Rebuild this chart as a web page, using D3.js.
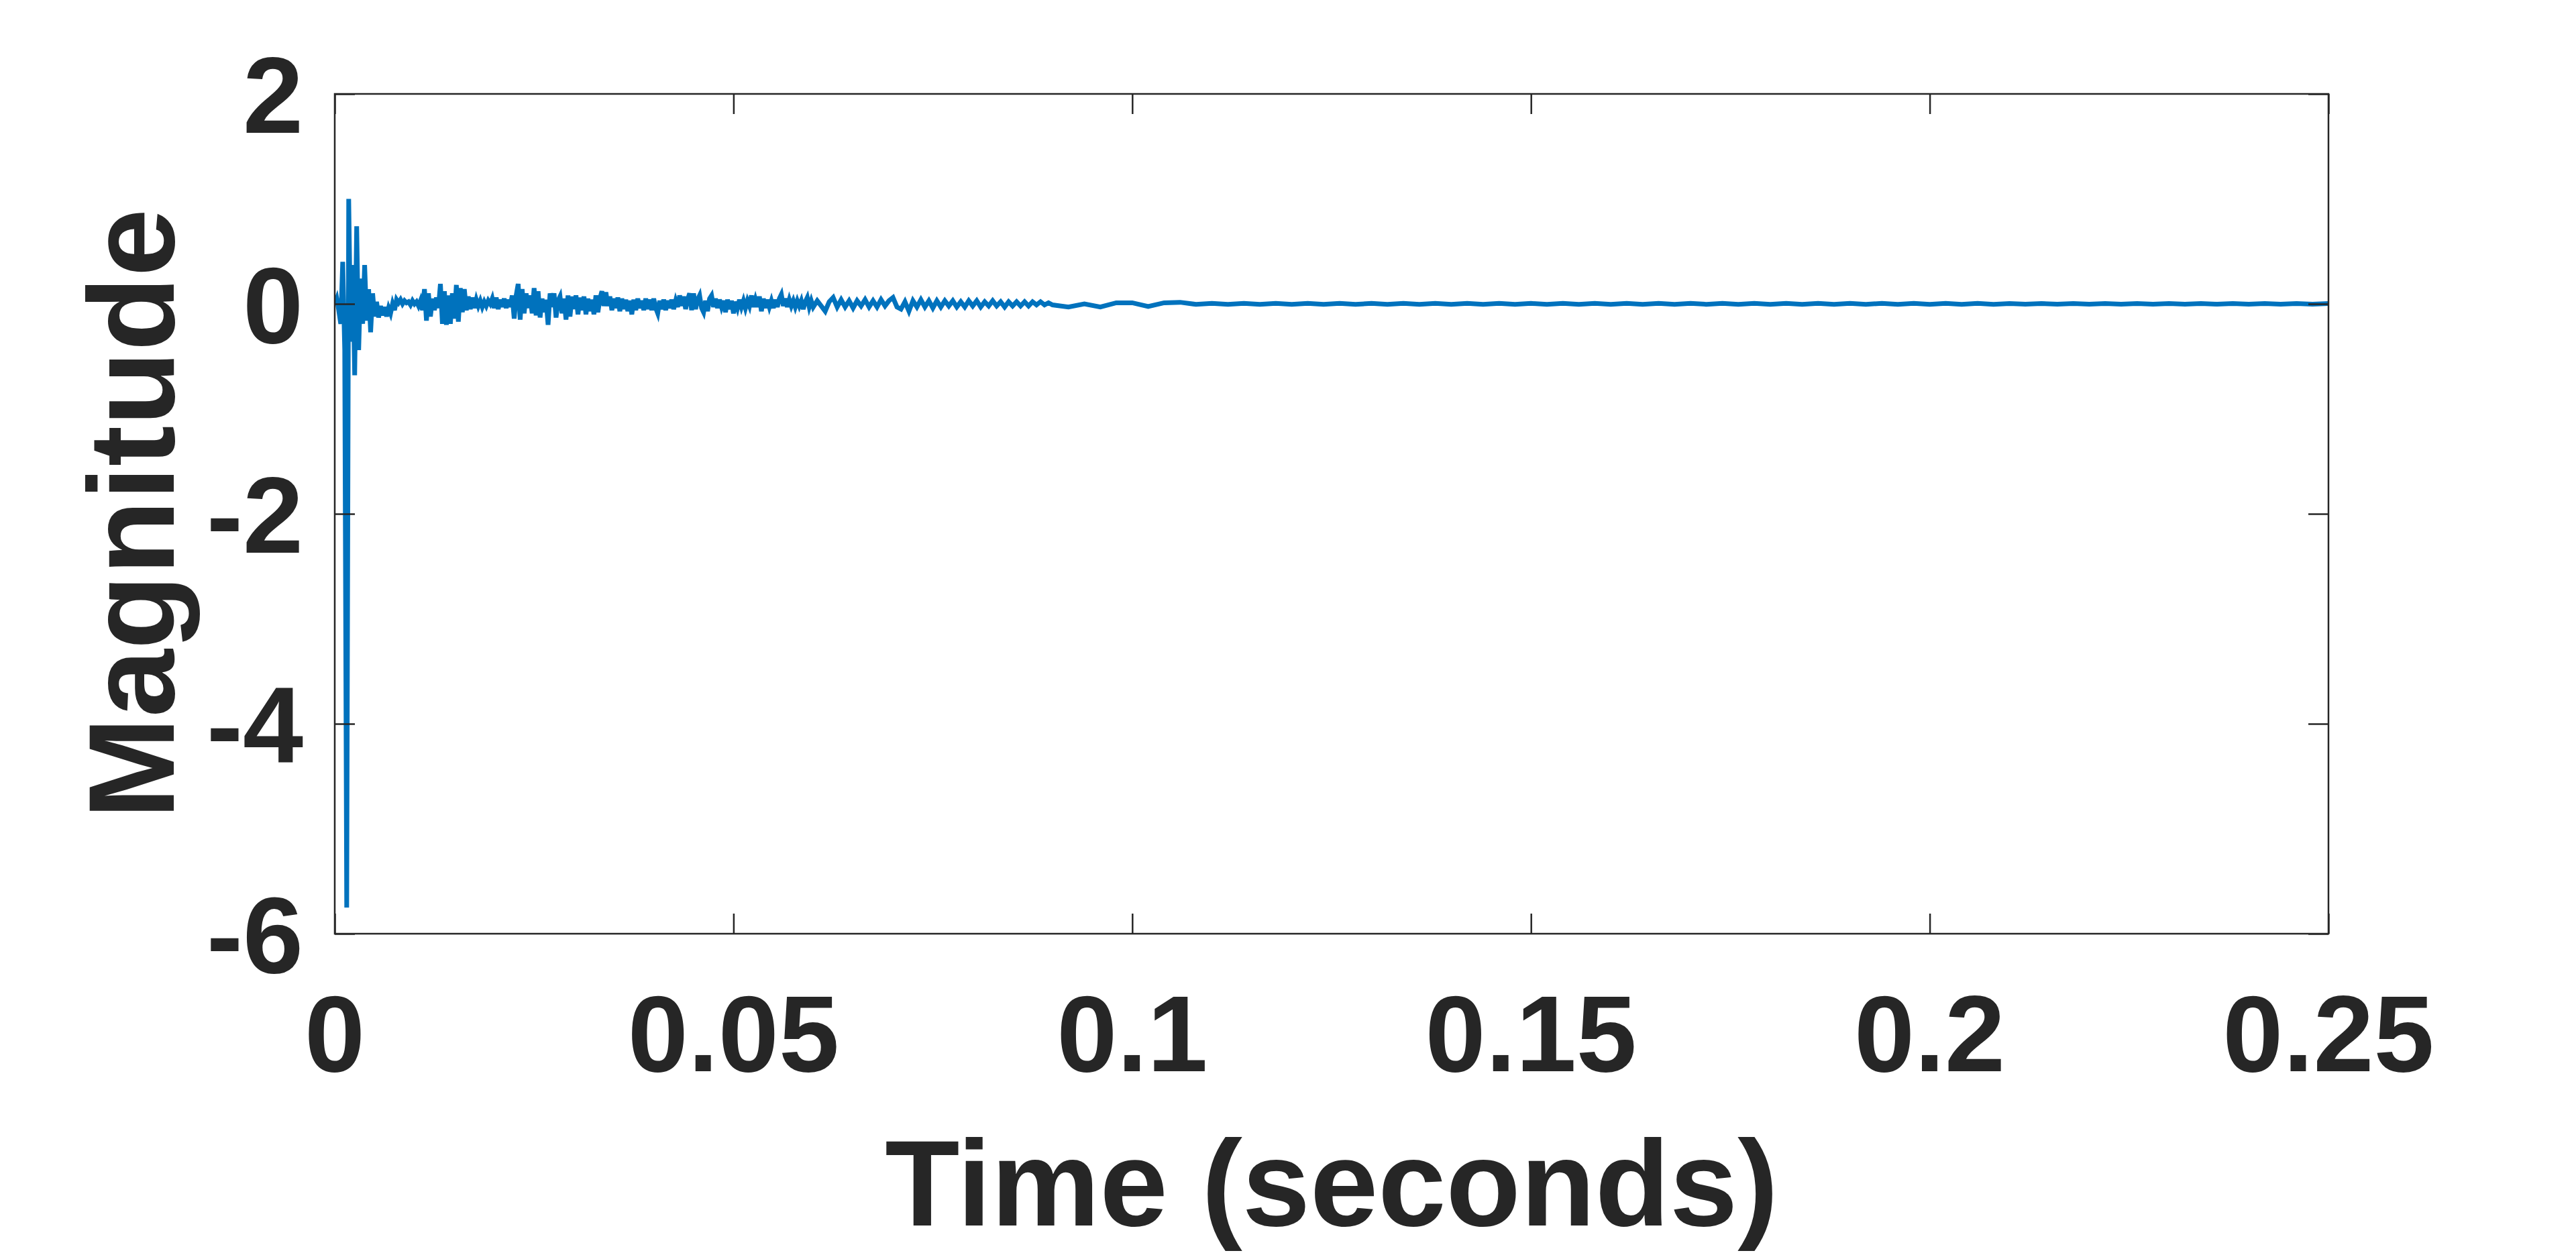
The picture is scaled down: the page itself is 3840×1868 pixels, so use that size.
<!DOCTYPE html>
<html>
<head>
<meta charset="utf-8">
<script src="https://cdn.jsdelivr.net/npm/d3@7"></script>
<style>
  html, body { margin: 0; padding: 0; background: #ffffff; }
  svg { display: block; }
</style>
</head>
<body>
<script>
// ---- Data ----
const xTicks = [0, 0.05, 0.1, 0.15, 0.2, 0.25];
const xTickLabels = ["0", "0.05", "0.1", "0.15", "0.2", "0.25"];
const yTicks = [2, 0, -2, -4, -6];
const yTickLabels = ["2", "0", "-2", "-4", "-6"];
const xLabel = "Time (seconds)";
const yLabel = "Magnitude";

// early part of the response, one value every 0.25 ms (0 .. 0.05975 s)
const earlyStart = 0;
const earlyStep = 0.00025;
const magnitudeEarly = [
  0.00, 0.05, -0.06, -0.19, 0.40, -0.44, -5.75, 1.00, -0.36, 0.37,
  -0.68, 0.74, -0.44, 0.24, -0.19, 0.37, -0.16, 0.14, -0.27, 0.10,
  -0.12, 0.02, -0.13, -0.02, -0.11, -0.03, -0.12, -0.04, -0.09, 0.00,
  -0.06, 0.04, 0.01, 0.04, 0.00, 0.03, 0.01, 0.02, -0.01, 0.03,
  0.00, 0.02, -0.02, 0.03, -0.06, 0.14, -0.16, 0.10, -0.12, 0.05,
  -0.06, 0.06, -0.04, 0.19, -0.19, 0.12, -0.20, 0.08, -0.19, 0.10,
  -0.14, 0.18, -0.17, 0.15, -0.08, 0.14, -0.06, 0.07, -0.05, 0.06,
  -0.04, 0.04, -0.02, 0.03, -0.03, 0.02, -0.02, 0.03, 0.00, 0.05,
  -0.04, 0.06, -0.05, 0.04, -0.03, 0.05, -0.04, 0.04, -0.03, 0.08,
  -0.14, 0.08, 0.19, -0.15, 0.14, -0.09, 0.10, -0.04, 0.08, -0.09,
  0.15, -0.11, 0.12, -0.13, 0.05, -0.08, 0.04, -0.20, 0.10, -0.03,
  0.10, -0.13, 0.03, 0.07, -0.09, 0.05, -0.15, 0.08, -0.12, 0.07,
  -0.05, 0.08, -0.10, 0.06, -0.06, 0.07, -0.10, 0.05, -0.07, 0.04,
  -0.10, 0.08, -0.08, 0.05, 0.12, -0.02, 0.11, -0.02, 0.07, -0.06,
  0.05, -0.04, 0.06, -0.07, 0.05, -0.05, 0.04, -0.07, 0.03, -0.10,
  0.04, -0.06, 0.05, -0.04, 0.03, -0.06, 0.05, -0.05, 0.04, -0.06,
  0.05, -0.04, -0.09, 0.03, -0.05, 0.04, -0.06, 0.03, -0.04, 0.04,
  -0.05, 0.03, -0.03, 0.08, -0.02, 0.07, -0.05, 0.04, 0.10, -0.06,
  0.10, -0.05, 0.04, 0.08, -0.04, -0.08, 0.03, -0.07, 0.05, 0.08,
  -0.03, 0.05, -0.04, 0.04, -0.03, 0.03, -0.08, 0.04, -0.05, 0.03,
  -0.09, 0.02, -0.04, 0.04, -0.03, 0.03, -0.04, 0.03, -0.02, 0.08,
  -0.03, 0.04, -0.03, 0.07, -0.07, 0.05, -0.04, 0.04, -0.03, 0.03,
  -0.04, 0.04, -0.03, 0.05, 0.09, -0.02, 0.05, -0.03, 0.04, -0.02,
  0.03, -0.03, 0.03, -0.02, 0.03, -0.05, 0.02, 0.06, -0.03, 0.03
];

// middle part, one value every 0.5 ms (0.06 .. 0.0895 s)
const middleStart = 0.06;
const middleStep = 0.0005;
const magnitudeMiddle = [
  -0.03, 0.03, -0.02, -0.07, 0.02, 0.06, -0.03, 0.04, -0.03, 0.03,
  -0.04, 0.03, -0.02, 0.04, -0.03, 0.03, -0.03, 0.04, -0.02, 0.03,
  0.06, -0.03, -0.05, 0.02, -0.07, 0.03, -0.03, 0.04, -0.03, 0.03,
  -0.04, 0.03, -0.03, 0.03, -0.02, 0.03, -0.03, 0.02, -0.03, 0.03,
  -0.02, 0.03, -0.03, 0.02, -0.02, 0.03, -0.02, 0.02, -0.03, 0.02,
  -0.02, 0.02, -0.02, 0.02, -0.02, 0.02, -0.01, 0.02, -0.01, 0.01
];

// late tail, one value every 2 ms (0.09 .. 0.25 s)
const lateStart = 0.09;
const lateStep = 0.002;
const magnitudeLate = [
  -0.01, -0.03, 0.00, -0.03, 0.01, 0.01, -0.025, 0.01, 0.015, -0.005,
  0.005, -0.005, 0.005, -0.005, 0.005, -0.005, 0.005, -0.005, 0.005, -0.005,
  0.005, -0.005, 0.005, -0.005, 0.005, -0.005, 0.005, -0.005, 0.005, -0.005,
  0.004, -0.004, 0.004, -0.004, 0.004, -0.004, 0.004, -0.004, 0.004, -0.004,
  0.004, -0.004, 0.004, -0.004, 0.004, -0.004, 0.004, -0.004, 0.004, -0.004,
  0.004, -0.004, 0.004, -0.004, 0.004, -0.004, 0.004, -0.004, 0.004, -0.004,
  0.003, -0.003, 0.003, -0.003, 0.003, -0.003, 0.003, -0.003, 0.003, -0.003,
  0.003, -0.003, 0.003, -0.003, 0.003, -0.003, 0.003, -0.003, 0.003, -0.003,
  0.003
];

// ---- Layout ----
const W = 3840, H = 1868;
const plot = { left: 499, right: 3471, top: 140, bottom: 1392 };
const textColor = "#262626";
const lineColor = "#0072BD";
const fontFamily = "'Liberation Sans', Arial, Helvetica, sans-serif";
const tickFont = 162;
const labelFont = 182;
const tickLen = 30;

const points = magnitudeEarly.map((v, i) => ({ t: earlyStart + i * earlyStep, v }))
  .concat(magnitudeMiddle.map((v, i) => ({ t: middleStart + i * middleStep, v })))
  .concat(magnitudeLate.map((v, i) => ({ t: lateStart + i * lateStep, v })));

const x = d3.scaleLinear().domain([0, 0.25]).range([plot.left, plot.right]);
const y = d3.scaleLinear().domain([-6, 2]).range([plot.bottom, plot.top]);

const svg = d3.select("body").append("svg")
  .attr("width", W).attr("height", H)
  .attr("viewBox", `0 0 ${W} ${H}`);

svg.append("rect").attr("width", W).attr("height", H).attr("fill", "#ffffff");

svg.append("clipPath").attr("id", "plotClip")
  .append("rect")
  .attr("x", plot.left).attr("y", plot.top)
  .attr("width", plot.right - plot.left).attr("height", plot.bottom - plot.top);

// signal
const line = d3.line().x(d => x(d.t)).y(d => y(d.v));
svg.append("path")
  .datum(points)
  .attr("clip-path", "url(#plotClip)")
  .attr("d", line)
  .attr("fill", "none")
  .attr("stroke", lineColor)
  .attr("stroke-width", 7)
  .attr("stroke-linejoin", "miter");

// axes (inward ticks, box)
const axisStyle = g => {
  g.select(".domain").remove();
  g.selectAll(".tick text").remove();
  g.selectAll(".tick line").attr("stroke", textColor).attr("stroke-width", 2.5);
};
svg.append("g").attr("transform", `translate(0,${plot.bottom})`)
  .call(d3.axisBottom(x).tickValues(xTicks).tickSize(-tickLen)).call(axisStyle);
svg.append("g").attr("transform", `translate(0,${plot.top})`)
  .call(d3.axisTop(x).tickValues(xTicks).tickSize(-tickLen)).call(axisStyle);
svg.append("g").attr("transform", `translate(${plot.left},0)`)
  .call(d3.axisLeft(y).tickValues(yTicks).tickSize(-tickLen)).call(axisStyle);
svg.append("g").attr("transform", `translate(${plot.right},0)`)
  .call(d3.axisRight(y).tickValues(yTicks).tickSize(-tickLen)).call(axisStyle);

svg.append("rect")
  .attr("x", plot.left).attr("y", plot.top)
  .attr("width", plot.right - plot.left).attr("height", plot.bottom - plot.top)
  .attr("fill", "none").attr("stroke", textColor).attr("stroke-width", 2.5);

// tick labels
svg.append("g").selectAll("text").data(xTicks).join("text")
  .attr("x", d => x(d))
  .attr("y", 1597)
  .attr("text-anchor", "middle")
  .attr("font-family", fontFamily).attr("font-weight", "bold")
  .attr("font-size", tickFont).attr("fill", textColor)
  .text((d, i) => xTickLabels[i]);

svg.append("g").selectAll("text").data(yTicks).join("text")
  .attr("x", 452)
  .attr("y", d => y(d))
  .attr("dy", "0.36em")
  .attr("text-anchor", "end")
  .attr("font-family", fontFamily).attr("font-weight", "bold")
  .attr("font-size", tickFont).attr("fill", textColor)
  .text((d, i) => yTickLabels[i]);

// axis labels
svg.append("text")
  .attr("x", (plot.left + plot.right) / 2)
  .attr("y", 1827)
  .attr("text-anchor", "middle")
  .attr("font-family", fontFamily).attr("font-weight", "bold")
  .attr("font-size", labelFont).attr("fill", textColor)
  .text(xLabel);

svg.append("text")
  .attr("transform", `translate(259,${(plot.top + plot.bottom) / 2}) rotate(-90)`)
  .attr("text-anchor", "middle")
  .attr("font-family", fontFamily).attr("font-weight", "bold")
  .attr("font-size", labelFont).attr("fill", textColor)
  .text(yLabel);
</script>
</body>
</html>
